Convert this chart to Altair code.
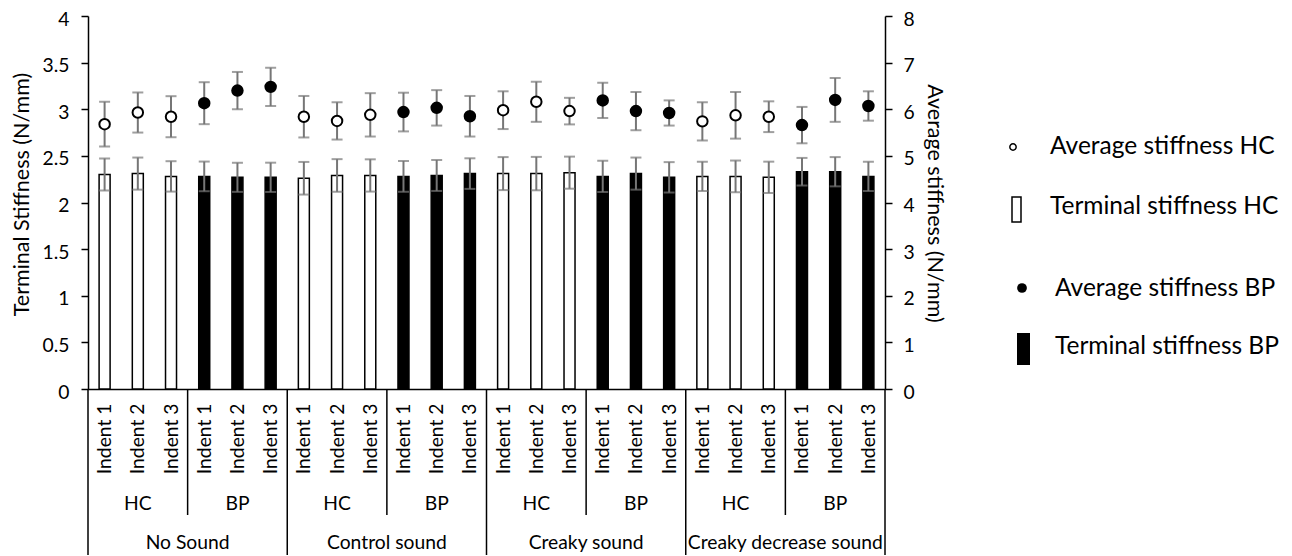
import altair as alt
import pandas as pd

sounds = ["No Sound", "Control sound", "Creaky sound", "Creaky decrease sound"]
groups = ["HC", "BP"]
indents = ["Indent 1", "Indent 2", "Indent 3"]

# Terminal stiffness (left axis, N/mm) and half error bars
terminal = [2.30, 2.31, 2.28, 2.28, 2.27, 2.27,
            2.26, 2.29, 2.29, 2.28, 2.29, 2.31,
            2.31, 2.31, 2.32, 2.28, 2.31, 2.27,
            2.28, 2.28, 2.27, 2.33, 2.33, 2.28]
terminal_err = [0.172, 0.172, 0.163, 0.159, 0.156, 0.157,
                0.175, 0.175, 0.173, 0.165, 0.166, 0.164,
                0.177, 0.179, 0.172, 0.168, 0.172, 0.163,
                0.157, 0.170, 0.168, 0.148, 0.157, 0.157]
# Average stiffness (right axis, N/mm) and half error bars
average = [5.68, 5.93, 5.84, 6.13, 6.40, 6.48,
           5.84, 5.75, 5.88, 5.94, 6.03, 5.85,
           5.98, 6.16, 5.96, 6.19, 5.96, 5.92,
           5.74, 5.87, 5.84, 5.66, 6.20, 6.07]
average_err = [0.48, 0.43, 0.44, 0.45, 0.40, 0.41,
               0.445, 0.40, 0.465, 0.415, 0.38, 0.435,
               0.405, 0.43, 0.285, 0.38, 0.41, 0.27,
               0.41, 0.50, 0.33, 0.39, 0.47, 0.315]

legend_labels = ["Average stiffness HC", "Terminal stiffness HC",
                 "Average stiffness BP", "Terminal stiffness BP"]

rows = []
k = 0
for s in sounds:
    for g in groups:
        for ind in indents:
            rows.append(dict(pos=k + 0.5, sound=s, group=g, indent=ind,
                             term=terminal[k], term_lo=terminal[k] - terminal_err[k],
                             term_hi=terminal[k] + terminal_err[k],
                             avg=average[k], avg_lo=average[k] - average_err[k],
                             avg_hi=average[k] + average_err[k]))
            k += 1
df = pd.DataFrame(rows)

n = len(df)
W, H = 797, 373
FONT = "Lato"
FS = 19.3
TFS = 21.5
LFS = 24.5
GREY = "#767676"

xscale = alt.Scale(domain=[0, n], nice=False, zero=False, padding=0)
lscale = alt.Scale(domain=[0, 4], nice=False, padding=0)
rscale = alt.Scale(domain=[0, 8], nice=False, padding=0)
fill = alt.Color("group:N", scale=alt.Scale(domain=["HC", "BP"], range=["white", "black"]), legend=None)

base = alt.Chart(df)

x_axis = alt.Axis(values=[i + 0.5 for i in range(n)],
                  labelExpr="'Indent ' + (floor(datum.value) % 3 + 1)",
                  labelAngle=-90, labelAlign="right", labelBaseline="middle",
                  labelPadding=14, ticks=False, labelFlush=False, labelOverlap=False,
                  title=None, grid=False, domainColor="black", domainWidth=1.5)
# identical x encoding in every layer so the shared axis merges cleanly
X = alt.X("pos:Q", scale=xscale, axis=x_axis)

bars = base.mark_bar(size=11, stroke="black", strokeWidth=1.5).encode(
    x=X,
    y=alt.Y("term:Q", scale=lscale,
            axis=alt.Axis(values=[0, 0.5, 1, 1.5, 2, 2.5, 3, 3.5, 4], format=".1~f",
                          orient="left", labelOffset=3,
                          title="Terminal Stiffness (N/mm)", grid=False,
                          tickSize=7, labelPadding=12, domainColor="black", domainWidth=1.5,
                          tickColor="black", tickWidth=1.5,
                          titleX=-66, titleY=178, titleAngle=-90, titleFontSize=TFS,
                          titleAlign="center", titleBaseline="middle")),
    fill=fill,
)
bar_rule = base.mark_rule(color=GREY, strokeWidth=2).encode(
    x=X, y=alt.Y("term_lo:Q", scale=lscale, axis=None), y2="term_hi:Q")
bar_cap_hi = base.mark_tick(orient="horizontal", size=11, thickness=2, color=GREY).encode(
    x=X, y=alt.Y("term_hi:Q", scale=lscale, axis=None))
bar_cap_lo = base.mark_tick(orient="horizontal", size=11, thickness=2, color=GREY).encode(
    x=X, y=alt.Y("term_lo:Q", scale=lscale, axis=None))

pt_rule = base.mark_rule(color=GREY, strokeWidth=2).encode(
    x=X, y=alt.Y("avg_lo:Q", scale=rscale, axis=None), y2="avg_hi:Q")
pt_cap_hi = base.mark_tick(orient="horizontal", size=11, thickness=2, color=GREY).encode(
    x=X, y=alt.Y("avg_hi:Q", scale=rscale, axis=None))
pt_cap_lo = base.mark_tick(orient="horizontal", size=11, thickness=2, color=GREY).encode(
    x=X, y=alt.Y("avg_lo:Q", scale=rscale, axis=None))
points = base.mark_point(shape="circle", filled=True, size=110, stroke="black",
                         strokeWidth=2, opacity=1).encode(
    x=X,
    y=alt.Y("avg:Q", scale=rscale,
            axis=alt.Axis(orient="right", values=list(range(9)), format="d", labelOffset=3,
                          title="Average stiffness (N/mm)", grid=False,
                          tickSize=7, labelPadding=11, domainColor="black", domainWidth=1.5,
                          tickColor="black", tickWidth=1.5,
                          titleX=48, titleY=187, titleAngle=90, titleFontSize=TFS,
                          titleAlign="center", titleBaseline="middle")),
    fill=fill)

# hierarchical category axis: separators and group labels
grp_df = df.groupby(["sound", "group"], sort=False)["pos"].mean().reset_index()
snd_df = df.groupby("sound", sort=False)["pos"].mean().reset_index()
grp_bounds = pd.DataFrame({"pos": [3.0 * i for i in range(1, 8, 2)]})
snd_bounds = pd.DataFrame({"pos": [6.0 * i for i in range(5)]})

grp_sep = alt.Chart(grp_bounds).mark_rule(color="black", strokeWidth=1.5).encode(
    x=X, y=alt.value(H), y2=alt.value(H + 126))
snd_sep = alt.Chart(snd_bounds).mark_rule(color="black", strokeWidth=1.5).encode(
    x=X, y=alt.value(H), y2=alt.value(H + 175))
grp_txt = alt.Chart(grp_df).mark_text(font=FONT, fontSize=FS, color="black", baseline="middle").encode(
    x=X, y=alt.value(H + 115), text="group:N")
snd_txt = alt.Chart(snd_df).mark_text(font=FONT, fontSize=FS, color="black", baseline="middle").encode(
    x=X, y=alt.value(H + 154), text="sound:N")

# legend
def leg_text(i, xv, yv):
    return alt.Chart(pd.DataFrame({"label": [legend_labels[i]]})).mark_text(
        font=FONT, fontSize=LFS, color="black", align="left", baseline="middle").encode(
        x=alt.value(xv), y=alt.value(yv), text="label:N")

one = pd.DataFrame({"label": legend_labels})
leg1 = alt.Chart(one.iloc[[0]]).mark_point(shape="circle", filled=False, size=40, opacity=1,
                                           stroke="black", strokeWidth=1.5).encode(
    x=alt.value(925), y=alt.value(131))
leg2 = alt.Chart(one.iloc[[1]]).mark_rect(fill="white", stroke="black", strokeWidth=1.5).encode(
    x=alt.value(924), x2=alt.value(933), y=alt.value(181), y2=alt.value(206))
leg3 = alt.Chart(one.iloc[[2]]).mark_point(shape="circle", filled=True, size=95, opacity=1,
                                           color="black").encode(
    x=alt.value(934), y=alt.value(272))
leg4 = alt.Chart(one.iloc[[3]]).mark_rect(fill="black").encode(
    x=alt.value(929), x2=alt.value(942), y=alt.value(317), y2=alt.value(349))

chart = alt.layer(
    bars, bar_rule, bar_cap_hi, bar_cap_lo,
    pt_rule, pt_cap_hi, pt_cap_lo, points,
    grp_sep, snd_sep, grp_txt, snd_txt,
    leg1, leg2, leg3, leg4,
    leg_text(0, 962, 131), leg_text(1, 962, 191), leg_text(2, 967, 273), leg_text(3, 967, 331),
).resolve_scale(y="independent").properties(
    width=W, height=H,
    autosize=alt.AutoSizeParams(type="none"),
    padding={"left": 80, "top": 8, "right": 399, "bottom": 166},
).configure_view(stroke=None).configure_axis(
    labelFont=FONT, labelFontSize=FS, labelColor="black",
    titleFont=FONT, titleFontSize=TFS, titleFontWeight="normal", titleColor="black",
)

chart.save("out.html", embed_options={"renderer": "svg", "actions": False})
